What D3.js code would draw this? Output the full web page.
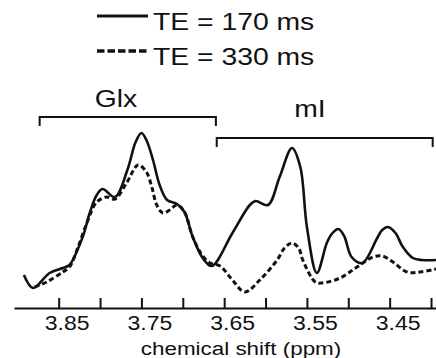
<!DOCTYPE html>
<html>
<head>
<meta charset="utf-8">
<script src="https://cdn.jsdelivr.net/npm/d3@7"></script>
<style>
  body { margin: 0; background: #fff; }
  svg { display: block; font-family: "Liberation Sans", Arial, sans-serif; }
</style>
</head>
<body>
<svg id="chart" width="436" height="358"></svg>
<script>
// chemical shift (ppm) / intensity (a.u.)
var te170 = [
  [3.892, 25], [3.881, 12], [3.861, 27], [3.845, 32], [3.837, 35], [3.821, 63],
  [3.8125, 87], [3.804, 105], [3.797, 111], [3.782, 103], [3.767, 130], [3.757, 158],
  [3.750, 167], [3.744, 160], [3.736, 140], [3.728, 115], [3.719, 100], [3.707, 96],
  [3.698, 88], [3.688, 63], [3.676, 42], [3.665, 34], [3.640, 67], [3.619, 95],
  [3.612, 99], [3.597, 95], [3.583, 123], [3.568, 152], [3.558, 133], [3.550, 73],
  [3.538, 27], [3.526, 57], [3.520, 66], [3.512, 71], [3.505, 64], [3.496, 43],
  [3.483, 37], [3.465, 62], [3.459, 70], [3.452, 73], [3.443, 67], [3.434, 53],
  [3.422, 42], [3.411, 40], [3.394, 40]
];
var te330 = [
  [3.879, 13], [3.8645, 18], [3.845, 28], [3.837, 33], [3.827, 52], [3.816, 77],
  [3.804, 98], [3.792, 103], [3.782, 101], [3.768, 117], [3.754, 135], [3.744, 128],
  [3.7375, 113], [3.7315, 95], [3.724, 87], [3.716, 90], [3.707, 95], [3.698, 88],
  [3.688, 63], [3.676, 44], [3.667, 37], [3.655, 34], [3.640, 20], [3.625, 8],
  [3.607, 20], [3.586, 40], [3.577, 52], [3.568, 57], [3.560, 52], [3.555, 40],
  [3.540, 18], [3.532, 17], [3.510, 22], [3.4895, 33], [3.470, 43], [3.459, 44],
  [3.446, 38], [3.429, 28], [3.413, 28], [3.394, 31]
];
var seriesNames = ["TE = 170 ms", "TE = 330 ms"];
var tickValues = [3.85, 3.80, 3.75, 3.70, 3.65, 3.60, 3.55, 3.50, 3.45, 3.40];
var tickLabels = ["3.85", "", "3.75", "", "3.65", "", "3.55", "", "3.45", ""];
var regionNames = ["Glx", "mI"];
var regionFrom = [3.873, 3.659];
var regionTo = [3.660, 3.398];
var axisTitle = "chemical shift (ppm)";

var svg = d3.select("#chart");
var stretch = "scale(1.18,1)";

var x = d3.scaleLinear().domain([3.904, 3.394]).range([14, 436]);
var y = d3.scaleLinear().domain([0, 180]).range([300, 120]);

// x axis, ticks pointing up
var xAxis = d3.axisBottom(x)
  .tickValues(tickValues)
  .tickFormat(function(d, i) { return tickLabels[i]; })
  .tickSizeInner(-10)
  .tickSizeOuter(0);

var gx = svg.append("g")
  .attr("transform", "translate(0,308)")
  .call(xAxis);
gx.select(".domain").attr("stroke", "#111").attr("stroke-width", 2);
gx.selectAll(".tick line").attr("stroke", "#111").attr("stroke-width", 2);
gx.selectAll(".tick text")
  .attr("y", 22).attr("dy", 0)
  .attr("transform", "translate(8,0) " + stretch)
  .style("font-size", "19.5px")
  .style("font-family", "Liberation Sans, Arial, sans-serif")
  .attr("fill", "#111");

svg.append("text")
  .attr("transform", "translate(241,355) " + stretch)
  .attr("text-anchor", "middle")
  .style("font-size", "19px")
  .attr("fill", "#111")
  .text(axisTitle);

// spectra
var line = d3.line()
  .x(function(d) { return x(d[0]); })
  .y(function(d) { return y(d[1]); })
  .curve(d3.curveCatmullRom.alpha(0.5));

svg.append("path")
  .datum(te330)
  .attr("fill", "none")
  .attr("stroke", "#111")
  .attr("stroke-width", 3)
  .attr("stroke-dasharray", "5,3")
  .attr("d", line);

svg.append("path")
  .datum(te170)
  .attr("fill", "none")
  .attr("stroke", "#111")
  .attr("stroke-width", 2.6)
  .attr("d", line);

// region brackets
var bracketY = [117, 138];
var labelY = [107, 117];
regionNames.forEach(function(name, i) {
  var x0 = x(regionFrom[i]), x1 = x(regionTo[i]), by = bracketY[i];
  svg.append("path")
    .attr("fill", "none")
    .attr("stroke", "#111")
    .attr("stroke-width", 2)
    .attr("d", "M" + x0 + "," + (by + 9) + "V" + by + "H" + x1 + "V" + (by + 9));
  svg.append("text")
    .attr("transform", "translate(" + (i === 0 ? 116 : 310) + "," + labelY[i] + ") " + stretch)
    .attr("text-anchor", "middle")
    .style("font-size", "24px")
    .attr("fill", "#111")
    .text(name);
});

// legend
var legend = svg.selectAll(".legend")
  .data(seriesNames)
  .enter().append("g")
  .attr("class", "legend")
  .attr("transform", function(d, i) { return "translate(0," + (i * 35) + ")"; });

legend.append("line")
  .attr("x1", 97).attr("x2", 148)
  .attr("y1", 16).attr("y2", 16)
  .attr("stroke", "#111")
  .attr("stroke-width", function(d, i) { return i ? 3.5 : 3; })
  .attr("stroke-dasharray", function(d, i) { return i ? "7.5,3" : null; });

legend.append("text")
  .attr("transform", "translate(153,30) " + stretch)
  .style("font-size", "24px")
  .attr("fill", "#111")
  .text(function(d) { return d; });
</script>
</body>
</html>
